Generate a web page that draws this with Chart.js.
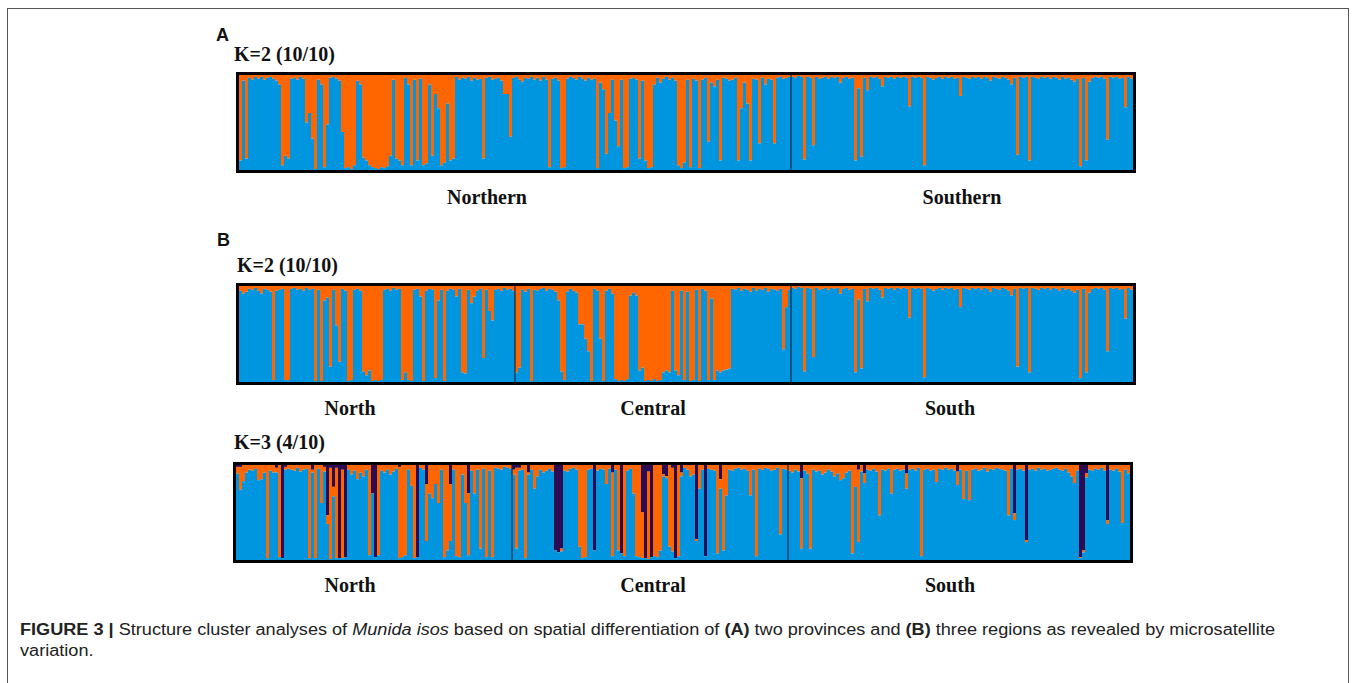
<!DOCTYPE html>
<html><head><meta charset="utf-8">
<script src="https://cdn.jsdelivr.net/npm/chart.js@4.4.1/dist/chart.umd.min.js"></script>
<style>
html,body{margin:0;padding:0;background:#fff;}
body{width:1358px;height:683px;overflow:hidden;position:relative;}
.frame{position:absolute;left:7px;top:8px;width:1342px;height:720px;border:1px solid #555;box-sizing:border-box;}
.box{position:absolute;}
.t{position:absolute;font-family:"Liberation Serif","Times New Roman",serif;font-weight:bold;font-size:20px;color:#111;white-space:nowrap;line-height:1;}
.c{transform:translate(-50%,-50%);}
.p{position:absolute;font-family:"Liberation Sans",Arial,sans-serif;font-weight:bold;font-size:18px;color:#111;line-height:1;}
.cap{position:absolute;left:20px;font-family:"Liberation Sans Narrow","Liberation Sans",Arial,sans-serif;font-size:16px;color:#222;white-space:nowrap;line-height:1;transform-origin:0 50%;}
</style></head>
<body>
<div class="frame"></div>
<div class="p" style="left:216px;top:26px;">A</div>
<div class="t" style="left:234px;top:44px;">K=2 (10/10)</div>
<div class="box" style="left:235px;top:71px;width:902px;height:103px;"><canvas id="cA" width="902" height="103"></canvas></div>
<div class="t c" style="left:487px;top:197px;">Northern</div>
<div class="t c" style="left:962px;top:197px;">Southern</div>

<div class="p" style="left:217px;top:231px;">B</div>
<div class="t" style="left:237px;top:255px;">K=2 (10/10)</div>
<div class="box" style="left:235px;top:282px;width:902px;height:104px;"><canvas id="cB" width="902" height="104"></canvas></div>
<div class="t c" style="left:350px;top:408px;">North</div>
<div class="t c" style="left:653px;top:408px;">Central</div>
<div class="t c" style="left:950px;top:408px;">South</div>

<div class="t" style="left:234px;top:432px;">K=3 (4/10)</div>
<div class="box" style="left:232px;top:461px;width:902px;height:103px;"><canvas id="cC" width="902" height="103"></canvas></div>
<div class="t c" style="left:350px;top:585px;">North</div>
<div class="t c" style="left:653px;top:585px;">Central</div>
<div class="t c" style="left:950px;top:585px;">South</div>

<div class="cap" id="cap1" style="top:622px;"><b>FIGURE 3 |</b> Structure cluster analyses of <i>Munida isos</i> based on spatial differentiation of <b>(A)</b> two provinces and <b>(B)</b> three regions as revealed by microsatellite</div>
<div class="cap" id="cap2" style="top:643px;">variation.</div>

<script>
// ---- Panel A, K=2: orange (cluster 2) membership per individual; blue = remainder ----
const A_northern_orange = [0.9,0.06,0.88,0.03,0.05,0.02,0.04,0.02,0.05,0.03,0.02,0.04,0.06,0.1,0.95,0.85,0.88,0.04,0.03,0.05,0.02,0.04,0.5,0.4,0.67,0.99,0.05,0.1,0.97,0.52,0.03,0.02,0.04,0.06,0.6,0.98,0.97,0.99,0.95,0.06,0.1,0.87,0.9,0.95,0.97,0.98,0.99,0.97,0.98,0.96,0.85,0.05,0.88,0.9,0.95,0.03,0.1,0.95,0.05,0.9,0.04,0.95,0.93,0.1,0.85,0.2,0.35,0.95,0.92,0.3,0.9,0.88,0.02,0.05,0.03,0.04,0.02,0.06,0.03,0.05,0.04,0.88,0.03,0.02,0.05,0.04,0.03,
0.06,0.2,0.2,0.65,0.03,0.02,0.05,0.07,0.03,0.04,0.02,0.05,0.03,0.06,0.02,0.05,0.97,0.04,0.03,0.06,0.98,0.97,0.04,0.02,0.03,0.05,0.02,0.04,0.06,0.03,0.05,0.04,0.98,0.08,0.15,0.83,0.4,0.05,0.48,0.75,0.05,0.98,0.97,0.04,0.03,0.05,0.88,0.06,0.9,0.98,0.97,0.1,0.03,0.08,0.04,0.02,0.05,0.03,0.06,0.95,0.98,0.92,0.05,0.97,0.04,0.06,0.98,0.05,0.03,0.7,0.08,0.12,0.05,0.9,0.03,0.04,0.06,0.05,0.03,0.9,0.35,0.08,0.3,0.9,0.04,0.05,0.72,0.03,0.1,0.04,0.05,0.72,0.03,0.02,0.04,0.03,0.02];
const A_southern_orange = [0.02,0.03,0.01,0.02,0.89,0.02,0.03,0.74,0.02,0.04,0.03,0.02,0.04,0.02,0.03,0.02,0.08,0.03,0.02,0.04,0.03,0.9,0.14,0.86,0.03,0.16,0.02,0.03,0.02,0.04,0.12,0.02,0.03,0.02,0.04,0.02,0.03,0.02,0.03,0.33,0.02,0.03,0.02,0.03,0.95,0.02,0.03,0.05,0.03,0.02,0.04,0.02,0.03,0.02,0.04,0.03,0.22,0.02,0.03,0.04,0.02,0.03,0.02,0.04,0.02,0.03,0.06,0.02,0.03,0.04,0.02,0.03,0.05,0.1,0.03,0.84,0.02,0.03,0.02,0.9,0.02,0.03,0.04,0.02,0.03,0.02,0.04,0.02,0.03,0.05,0.02,0.04,0.03,0.05,0.07,0.04,0.96,0.03,0.9,0.07,0.03,0.02,0.03,0.02,0.04,0.68,0.02,0.03,0.02,0.04,0.03,0.34,0.02,0.04];

// ---- Panel B, K=2 ----
const B_north_orange = [0.05,0.08,0.06,0.03,0.04,0.02,0.05,0.08,0.03,0.04,0.06,0.98,0.05,0.04,0.03,0.98,0.98,0.03,0.02,0.04,0.03,0.05,0.02,0.04,0.03,0.99,0.04,0.99,0.15,0.12,0.84,0.04,0.41,0.79,0.03,0.05,0.99,0.98,0.04,0.03,0.05,0.89,0.93,0.88,0.99,0.98,0.99,0.98,0.04,0.03,0.05,0.02,0.04,0.03,0.98,0.9,0.98,0.99,0.04,0.03,0.11,0.99,0.05,0.03,0.04,0.96,0.15,0.04,0.99,0.05,0.03,0.04,0.11,0.03,0.9,0.91,0.04,0.18,0.11,0.05,0.03,0.75,0.04,0.26,0.36,0.04,0.03,0.05,0.02,0.04,0.03,0.05];
const B_central_orange = [0.9,0.85,0.04,0.06,0.03,0.99,0.04,0.05,0.03,0.02,0.05,0.03,0.04,0.06,0.15,0.89,0.98,0.06,0.03,0.05,0.07,0.4,0.4,0.55,0.68,0.99,0.03,0.05,0.55,0.99,0.05,0.03,0.08,0.97,0.99,0.98,0.99,0.97,0.1,0.07,0.1,0.88,0.85,0.99,0.98,0.99,0.97,0.99,0.98,0.9,0.88,0.9,0.05,0.88,0.93,0.05,0.98,0.06,0.99,0.98,0.04,0.99,0.03,0.05,0.98,0.13,0.98,0.88,0.9,0.88,0.87,0.86,0.03,0.04,0.02,0.05,0.03,0.04,0.06,0.02,0.05,0.03,0.04,0.02,0.06,0.03,0.04,0.05,0.03,0.66,0.22,0.04];
const B_south_orange = A_southern_orange;

// ---- Panel B, K=3: orange and dark purple membership; blue = remainder ----
const C_north_orange = [0.07,0.24,0.17,0.08,0.05,0.06,0.04,0.16,0.15,0.08,0.98,0.06,0.08,0.05,0.97,0,0.03,0.04,0.05,0.06,0.03,0.07,0.05,0.04,0.98,0.03,0.98,0.04,0.4,0.05,0.09,0.96,0.1,0.95,0,0.93,0,0.05,0.1,0.06,0.15,0.08,0.12,0.05,0.95,0,0,0.95,0.06,0.08,0.05,0.1,0.07,0.04,0.96,0.97,0.95,0.05,0.22,0.98,0,0.03,0.05,0.6,0.3,0.35,0.2,0.4,0.05,0.97,0.9,0.6,0.05,0.96,0.97,0.1,0.4,0.65,0.06,0.3,0.05,0.88,0.04,0.97,0.06,0.97,0.03,0.04,0.05,0.02,0.03,0.04];
const C_north_dark = [0.02,0.02,0,0,0,0,0,0,0,0,0,0,0,0.03,0,0.98,0.02,0,0,0,0,0,0,0,0,0.05,0,0,0,0.02,0.53,0.03,0.23,0.03,0.98,0.05,0.97,0,0,0,0,0,0,0,0,0.3,0.97,0,0,0,0,0,0,0,0.02,0,0,0,0,0,0.97,0,0,0.2,0,0,0,0,0,0,0,0.2,0,0,0,0,0,0.3,0,0,0,0,0,0,0,0,0,0,0,0,0,0];
const C_central_orange = [0.05,0.85,0.03,0.05,0.98,0.02,0.05,0.25,0.12,0.05,0.08,0.06,0.04,0.07,0,0,0.03,0.06,0.07,0.04,0.03,0.05,0.86,0.98,0.97,0.05,0.04,0,0.06,0.04,0.05,0.2,0.04,0.88,0.05,0.9,0,0.96,0.06,0.04,0.3,0.96,0.97,0.48,0,0.92,0,0.96,0.97,0.9,0.02,0.02,0.86,0.88,0,0.96,0.04,0.03,0.05,0.12,0.1,0.02,0.25,0.05,0,0.04,0.05,0.06,0.93,0.1,0.9,0.32,0.05,0.06,0.04,0.03,0.05,0.04,0.06,0.32,0.05,0.96,0.04,0.05,0.03,0.04,0.06,0.05,0.03,0.73,0.04,0.05];
const C_central_dark = [0.05,0.03,0.03,0,0,0.08,0,0,0,0,0,0,0,0,0.9,0.92,0.88,0,0,0,0,0,0,0,0,0,0,0.9,0,0,0,0,0,0.08,0,0,0.93,0,0,0,0,0,0,0.5,0.98,0.07,0.97,0,0,0,0.1,0.12,0,0.03,0.98,0,0.08,0,0,0,0,0.78,0,0,0.96,0,0,0,0,0.15,0,0,0,0,0,0,0,0,0,0,0,0,0,0,0,0,0,0,0,0,0,0];
const C_south_orange = [0.06,0.08,0.05,0.07,0.74,0.06,0.09,0.88,0.05,0.07,0.06,0.1,0.08,0.05,0.07,0.12,0.09,0.16,0.14,0.08,0.06,0.93,0.23,0.76,0.07,0.1,0.05,0.06,0.04,0.07,0.53,0.05,0.06,0.04,0.3,0.05,0.04,0.06,0.05,0.16,0.05,0.04,0.06,0.03,0.96,0.05,0.04,0.06,0.05,0.18,0.04,0.05,0.03,0.05,0.04,0.06,0.14,0.05,0.36,0.06,0.37,0.05,0.04,0.06,0.05,0.03,0.07,0.04,0.05,0.03,0.04,0.05,0.06,0.53,0.04,0.07,0.05,0.04,0.06,0.02,0.05,0.04,0.06,0.03,0.05,0.04,0.06,0.05,0.04,0.03,0.05,0.06,0.04,0.08,0.12,0.19,0.06,0.01,0.02,0.04,0.05,0.06,0.04,0.05,0.03,0.06,0.04,0.05,0.06,0.04,0.07,0.61,0.05,0.09];
const C_south_dark = [0,0,0,0,0.14,0,0,0,0,0,0,0,0,0,0,0,0,0,0,0,0,0,0,0.05,0,0.09,0,0,0,0,0,0,0,0,0,0,0,0,0,0.09,0,0,0,0,0,0,0,0,0,0,0,0,0,0,0,0,0.07,0,0,0,0,0,0,0,0,0,0,0,0,0,0,0,0,0,0,0.51,0,0,0,0.79,0,0,0,0,0,0,0,0,0,0,0,0,0,0,0,0,0,0.97,0.9,0.09,0,0,0,0,0,0,0.58,0,0,0,0,0,0,0];

const BLUE = '#0096df', ORANGE = '#ff6600', DARK = '#2c0b55';

const framePlugin = {
  id: 'frame',
  afterDatasetsDraw(chart, args, opts) {
    const {ctx, chartArea: a, scales: {x}} = chart;
    ctx.save();
    ctx.strokeStyle = '#0d2a40'; ctx.lineWidth = 1.2;
    (opts.splits || []).forEach(n => {
      const px = Math.round((x.getPixelForValue(n - 1) + x.getPixelForValue(n)) / 2);
      ctx.beginPath(); ctx.moveTo(px, a.top); ctx.lineTo(px, a.bottom); ctx.stroke();
    });
    ctx.strokeStyle = '#000'; ctx.lineWidth = 3;
    ctx.strokeRect(a.left - 1.5, a.top - 1.5, a.right - a.left + 3, a.bottom - a.top + 3);
    ctx.restore();
  }
};

function makePanel(id, orangeParts, darkParts) {
  const orange = [].concat(...orangeParts);
  const dark = darkParts ? [].concat(...darkParts) : orange.map(() => 0);
  const blue = orange.map((v, i) => Math.max(0, 1 - v - dark[i]));
  const labels = orange.map((_, i) => String(i + 1));
  const splits = []; let acc = 0;
  orangeParts.slice(0, -1).forEach(p => { acc += p.length; splits.push(acc); });
  const ds = (label, data, color) => ({label, data, backgroundColor: color, borderWidth: 0, barPercentage: 1, categoryPercentage: 1, inflateAmount: 0});
  const datasets = [ds('Cluster 1', blue, BLUE), ds('Cluster 2', orange, ORANGE)];
  if (darkParts) datasets.push(ds('Cluster 3', dark, DARK));
  new Chart(document.getElementById(id), {
    type: 'bar',
    data: {labels, datasets},
    options: {
      responsive: false, animation: false, devicePixelRatio: 1,
      layout: {padding: 4},
      scales: {
        x: {display: false, stacked: true, grid: {display: false}},
        y: {display: false, stacked: true, min: 0, max: 1, grid: {display: false}}
      },
      plugins: {legend: {display: false}, tooltip: {enabled: false}, frame: {splits}}
    },
    plugins: [framePlugin]
  });
}

makePanel('cA', [A_northern_orange, A_southern_orange]);
makePanel('cB', [B_north_orange, B_central_orange, B_south_orange]);
makePanel('cC', [C_north_orange, C_central_orange, C_south_orange], [C_north_dark, C_central_dark, C_south_dark]);

// fit caption line to the reference width
const cap1 = document.getElementById('cap1'), cap2 = document.getElementById('cap2');
const w = cap1.getBoundingClientRect().width;
const s = 1255 / w;
cap1.style.transform = 'scaleX(' + s + ')';
cap2.style.transform = 'scaleX(' + s + ')';
</script>
</body></html>
